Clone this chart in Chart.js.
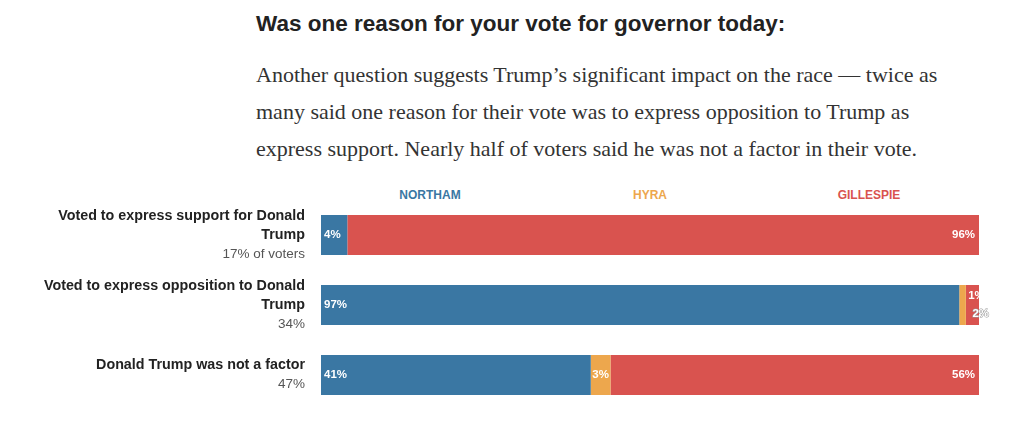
<!DOCTYPE html>
<html><head><meta charset="utf-8">
<script src="https://cdn.jsdelivr.net/npm/chart.js@4"></script>
<style>
body{margin:0;width:1017px;height:438px;background:#fff;position:relative;overflow:hidden;font-family:"Liberation Sans",Arial,sans-serif}
#t{position:absolute;left:256px;top:11px;font-size:22.5px;font-weight:bold;color:#222}
#p{position:absolute;left:256px;top:56px;width:690px;font-family:"Liberation Serif","Times New Roman",serif;font-size:22px;line-height:37px;color:#333}
.h{position:absolute;top:188px;font-size:12px;font-weight:bold;width:120px;text-align:center}
#w{position:absolute;left:0;top:200px;width:1017px;height:210px}
</style></head><body>
<div id="t">Was one reason for your vote for governor today:</div>
<div id="p">Another question suggests Trump’s significant impact on the race — twice as many said one reason for their vote was to express opposition to Trump as express support. Nearly half of voters said he was not a factor in their vote.</div>
<div class="h" style="left:370px;color:#3a77a3">NORTHAM</div>
<div class="h" style="left:590px;color:#eda74d">HYRA</div>
<div class="h" style="left:809px;color:#d9534f">GILLESPIE</div>
<div id="w"><canvas id="c"></canvas></div>
<script>
const categories=[["Voted to express support for Donald","Trump"],["Voted to express opposition to Donald","Trump"],["Donald Trump was not a factor"]];
const shares=["17% of voters","34%","47%"];
const northam=[4,97,41];
const hyra=[0,1,3];
const gillespie=[96,2,56];
const colors=["#3a77a3","#eda74d","#d9534f"];
const labelPlugin={id:"lbl",afterDatasetsDraw(ch){
 const c=ch.ctx;c.save();
 ch.data.datasets.forEach((ds,di)=>{
  ch.getDatasetMeta(di).data.forEach((b,i)=>{
   const v=ds.data[i];if(!v)return;
   c.font="bold 11.5px 'Liberation Sans',Arial";c.textBaseline="middle";
   const l=Math.min(b.x,b.base),r=Math.max(b.x,b.base);
   if(v>=3){c.fillStyle="#fff";
    if(di==0){c.textAlign="left";c.fillText(v+"%",l+3,b.y);}
    else if(di==2){c.textAlign="right";c.fillText(v+"%",r-4,b.y);}
    else{c.textAlign="center";c.fillText(v+"%",(l+r)/2,b.y);}
   }else{
    c.textAlign="right";
    if(di==1){c.fillStyle="#fff";c.fillText(v+"%",r+19,b.y-9);}
    else{c.fillStyle="#fff";c.strokeStyle="#999";c.lineWidth=1;c.strokeText(v+"%",r+10,b.y+9);c.fillText(v+"%",r+10,b.y+9);}
   }
  });
 });
 const ys=ch.scales.y;
 categories.forEach((lines,i)=>{
  const y=ys.getPixelForValue(i);
  const n=lines.length+1;let y0=y-(n-1)*19/2;
  c.textAlign="right";c.textBaseline="middle";
  lines.forEach((t,k)=>{c.font="bold 14.3px 'Liberation Sans',Arial";c.fillStyle="#222";c.fillText(t,305,y0+k*19);});
  c.font="13.5px 'Liberation Sans',Arial";c.fillStyle="#555";c.fillText(shares[i],305,y0+lines.length*19);
 });
 c.restore();
}};
new Chart(document.getElementById("c"),{type:"bar",
 data:{labels:categories.map(l=>l.join(" ")),datasets:[
  {label:"NORTHAM",data:northam,backgroundColor:colors[0]},
  {label:"HYRA",data:hyra,backgroundColor:colors[1]},
  {label:"GILLESPIE",data:gillespie,backgroundColor:colors[2]}]},
 options:{indexAxis:"y",responsive:true,maintainAspectRatio:false,animation:false,
  layout:{padding:{left:321,right:38,top:0,bottom:0}},
  datasets:{bar:{categoryPercentage:1,barPercentage:40/70}},
  plugins:{legend:{display:false},tooltip:{enabled:false}},
  scales:{x:{stacked:true,min:0,max:100,display:false},y:{stacked:true,display:false}}},
 plugins:[labelPlugin]});
</script></body></html>
